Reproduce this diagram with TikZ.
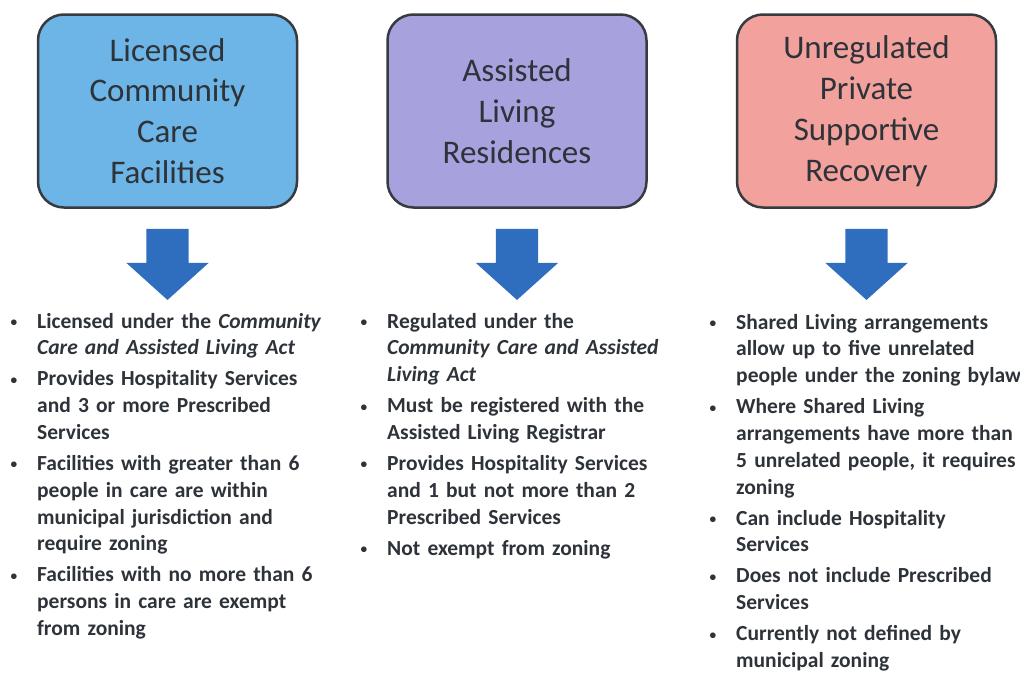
\documentclass[tikz,border=0pt]{standalone}
\usepackage{fontspec}
\setmainfont{Carlito}
\usepackage{enumitem}
\usetikzlibrary{positioning,shapes.arrows}

\definecolor{licblue}{HTML}{6DB5E6}
\definecolor{alrpurple}{HTML}{A7A2DE}
\definecolor{uprsalmon}{HTML}{F2A19D}
\definecolor{arrowblue}{HTML}{2F6DBF}
\definecolor{boxline}{HTML}{363B40}
\definecolor{textgray}{HTML}{2E333A}

\newcommand{\catfont}{\fontsize{33}{40.8}\selectfont}
\newcommand{\listfont}{\fontsize{21.5}{26.8}\selectfont\bfseries}
\newcommand{\smallbullet}{\raisebox{0.15ex}{\scalebox{0.62}{\textbullet}}}

\setlist[itemize]{leftmargin=23pt, labelsep=20pt, itemsep=4.2pt, topsep=0pt,
  parsep=0pt, partopsep=0pt, label=\smallbullet}

\begin{document}
\begin{tikzpicture}[
    x=1pt, y=-1pt,
    node distance=88pt,
    every node/.style={text=textgray},
    catbox/.style={
        draw=boxline,
        line width=2.5pt,
        rounded corners=26pt,
        minimum width=259pt,
        minimum height=193pt,
        align=center,
        font=\catfont
    },
    downarrow/.style={
        single arrow,
        fill=arrowblue,
        shape border rotate=270,
        inner sep=21pt,
        minimum height=71pt,
        minimum width=82pt,
        single arrow head extend=20pt,
        single arrow tip angle=96
    },
    itemlist/.style={anchor=north west, inner sep=0pt, text width=330pt, font=\listfont}
]

\useasboundingbox (0,0) rectangle (1020,672);

% Category boxes
\node[catbox,fill=licblue] (lccf) at (167.5,111) {Licensed\\Community\\Care\\Facilities};
\node[catbox,fill=alrpurple,right=of lccf] (alr) {Assisted\\Living\\Residences};
\node[catbox,fill=uprsalmon,right=of alr] (upsr) {Unregulated\\Private\\Supportive\\Recovery};

% Arrows
\node[downarrow,below=20pt of lccf] (arr1) {};
\node[downarrow,below=20pt of alr] (arr2) {};
\node[downarrow,below=20pt of upsr] (arr3) {};

% Bullet lists
\node[itemlist] (list1) at (14,301) {
\begin{itemize}
  \item Licensed under the \textit{Community}\\\textit{Care and Assisted Living Act}
  \item Provides Hospitality Services\\and 3 or more Prescribed\\Services
  \item Facilities with greater than 6\\people in care are within\\municipal jurisdiction and\\require zoning
  \item Facilities with no more than 6\\persons in care are exempt\\from zoning
\end{itemize}
};

\node[itemlist] (list2) at (364,301) {
\begin{itemize}
  \item Regulated under the\\\textit{Community Care and Assisted}\\\textit{Living Act}
  \item Must be registered with the\\Assisted Living Registrar
  \item Provides Hospitality Services\\and 1 but not more than 2\\Prescribed Services
  \item Not exempt from zoning
\end{itemize}
};

\node[itemlist] (list3) at (713,302) {
\begin{itemize}
  \item Shared Living arrangements\\allow up to five unrelated\\people under the zoning bylaw
  \item Where Shared Living\\arrangements have more than\\5 unrelated people, it requires\\zoning
  \item Can include Hospitality\\Services
  \item Does not include Prescribed\\Services
  \item Currently not defined by\\municipal zoning
\end{itemize}
};

\end{tikzpicture}
\end{document}
